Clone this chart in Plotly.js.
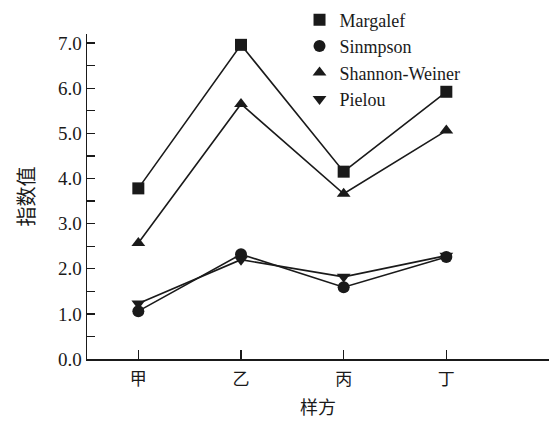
<!DOCTYPE html>
<html><head><meta charset="utf-8">
<script src="https://cdn.plot.ly/plotly-3.0.1.min.js"></script>
</head><body style="margin:0;padding:0;background:#fff;">
<div id="chart" style="width:550px;height:423px;"></div>
<script>
const categories = ["甲", "乙", "丙", "丁"];
const catPos = [1, 2, 3, 4];
const margalef = [3.78, 6.96, 4.15, 5.92];
const sinmpson = [1.06, 2.32, 1.59, 2.26];
const shannon = [2.57, 5.65, 3.66, 5.06];
const pielou = [1.23, 2.20, 1.82, 2.29];
const seriesNames = ["Margalef", "Sinmpson", "Shannon-Weiner", "Pielou"];
const yTickVals = [0, 0.5, 1, 1.5, 2, 2.5, 3, 3.5, 4, 4.5, 5, 5.5, 6, 6.5, 7];
const yTickText = ["0.0", "", "1.0", "", "2.0", "", "3.0", "", "4.0", "", "5.0", "", "6.0", "", "7.0"];

(function () {
  const seriesData = [margalef, sinmpson, shannon, pielou];
  const markerSymbols = ["square", "circle", "triangle-up", "triangle-down"];
  const INK = "#1a1a1a";
  const SERIF = "Liberation Serif";
  const CJK = "Noto Sans CJK SC";
  const mk = (fam, sz) => ({family: fam, size: sz, color: INK});

  const plotTraces = [];
  seriesData.forEach((vals, i) => {
    plotTraces.push({
      x: catPos, y: vals, type: "scatter", mode: "lines+markers",
      name: seriesNames[i], showlegend: false,
      line: {color: INK, width: 1.6},
      marker: {symbol: markerSymbols[i], size: 12, color: INK},
      cliponaxis: false
    });
  });
  seriesData.forEach((vals, i) => {
    plotTraces.push({
      x: [null], y: [null], type: "scatter", mode: "markers",
      name: seriesNames[i], showlegend: true,
      marker: {symbol: markerSymbols[i], size: 10, color: INK}
    });
  });

  const plotLayout = {
    width: 550, height: 423,
    margin: {l: 87, r: 1, t: 31, b: 64},
    paper_bgcolor: "#fff", plot_bgcolor: "#fff",
    font: mk(SERIF, 19),
    showlegend: true,
    legend: {x: 0.46, y: 1.1, xanchor: "left", yanchor: "top",
             font: mk(SERIF, 18),
             tracegroupgap: 0, itemsizing: "constant", bgcolor: "rgba(0,0,0,0)"},
    xaxis: {
      range: [0.5, 5], tickvals: [1, 2, 3, 4, 5], ticktext: categories.concat([""]),
      showline: true, linecolor: INK, linewidth: 1.5,
      ticks: "inside", ticklen: 9, tickwidth: 1.3, tickcolor: INK,
      showgrid: false, zeroline: false, ticklabelstandoff: 4,
      tickfont: mk(CJK, 17),
      title: {text: "样方", font: mk(CJK, 18), standoff: 12}
    },
    yaxis: {
      range: [0, 7.2], tickvals: yTickVals, ticktext: yTickText,
      showline: true, linecolor: INK, linewidth: 1.5,
      ticks: "inside", ticklen: 8, tickwidth: 1.3, tickcolor: INK,
      showgrid: false, zeroline: false,
      tickfont: mk(SERIF, 19),
      title: {text: "指数值", font: mk(CJK, 20), standoff: 18}
    }
  };
  Plotly.newPlot("chart", plotTraces, plotLayout, {displayModeBar: false, staticPlot: true});
})();
</script>
</body></html>
